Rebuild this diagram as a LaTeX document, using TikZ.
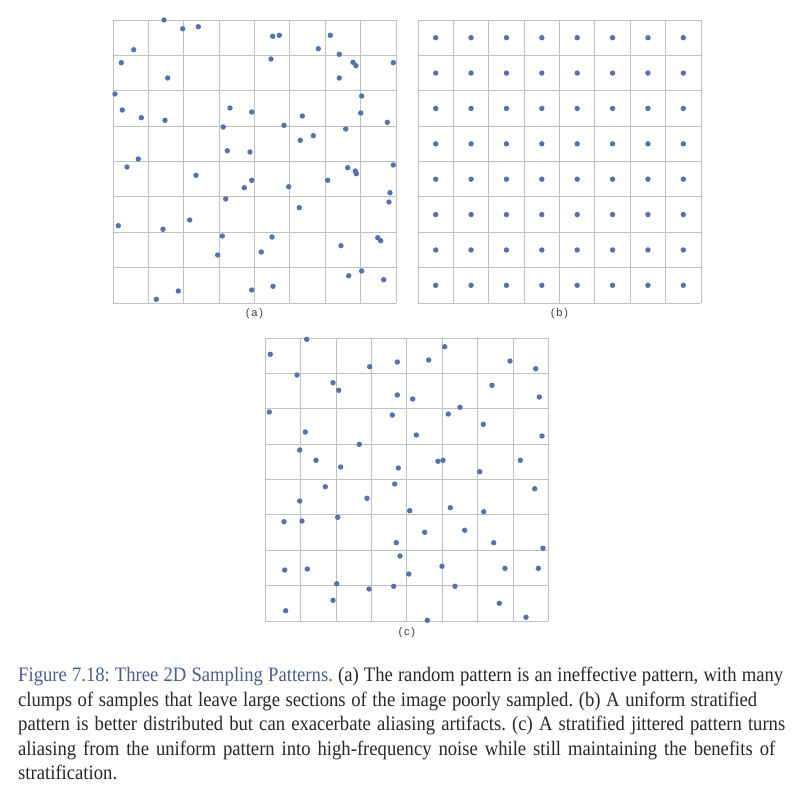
\documentclass[tikz,border=0pt]{standalone}
\usepackage{fontspec}
\setmainfont{Liberation Serif}
\newfontfamily\capfont[FakeStretch=0.91]{Liberation Serif}
\newfontfamily\labfont{Liberation Sans}
\definecolor{dotc}{RGB}{84,114,174}
\definecolor{gridc}{RGB}{192,192,192}
\definecolor{figc}{RGB}{74,94,140}
\definecolor{textc}{RGB}{40,40,40}
\definecolor{labc}{RGB}{60,60,60}
\tikzset{
  gridline/.style={draw=gridc, line width=0.8pt},
  sample/.style={fill=dotc},
  captext/.style={anchor=base west, inner sep=0pt, font=\capfont\fontsize{20.5}{24}\selectfont\frenchspacing, text=textc},
  sublabel/.style={inner sep=0pt, font=\labfont\fontsize{11}{12}\selectfont, text=labc}
}
\newcommand\samplegrid[3]{%
  \foreach \i in {0,...,8}{%
    \draw[gridline] ({#1+\i*#3/8},#2) -- ({#1+\i*#3/8},{#2+#3});
    \draw[gridline] (#1,{#2+\i*#3/8}) -- ({#1+#3},{#2+\i*#3/8});
  }}
\begin{document}
\begin{tikzpicture}[x=1pt,y=-1pt]
\useasboundingbox (0,0) rectangle (797,796);
\fill[white] (0,0) rectangle (797,796);
% grids
\samplegrid{113}{20}{283}
\samplegrid{418}{20}{283}
\samplegrid{265.3}{338}{283}
% (a) random
\foreach \x/\y in {164/20,182.7/28.7,198.3/26.7,133.7/49.7,121.3/62.7,167.7/78,115/94,122.3/110,141.3/117.7,165/120.3,
230/108,251.7/112,223.3/127,227.3/150.7,250/152,138.3/159,
272.7/36.3,279.3/35.3,330.3/35.3,318.3/48.7,339.3/54.3,271/59,353/62.3,356/65.7,393.3/62.7,339.3/78,361.7/96,
302.3/116,360.7/113,387.3/122.3,284/125.3,345.7/129,300.3/140.3,313.3/135.7,
127/167,196/175.3,251.7/180.3,244.3/187.7,225.7/199,118.3/225.7,163/229.3,189.7/220,222.3/236,217.7/255,178.3/291,156.3/299.3,251.7/290,
288.7/186.7,299.3/207.7,327.7/180.3,347.7/167.7,355.3/171,356.3/173.7,393.3/165,390/192.7,389/202,272/237,261.3/252,341/245.7,
377.7/237.7,380.7/240.7,348.7/275.7,361.7/271,383.7/279.7,273/286.3}
  \fill[sample] (\x,\y) circle (2.7);
% (b) uniform
\foreach \i in {0,...,7}
  \foreach \j in {0,...,7}
    \fill[sample] ({418+17.69+\i*35.375},{20+17.69+\j*35.375}) circle (2.7);
% (c) jittered
\foreach \x/\y in {306.7/339.3,270.3/354.3,369.7/366.7,397.3/362,297/375,333/382.7,338.7/390.3,397.3/395,269.3/412,392.3/415,
305.3/432,359.3/444.3,299.7/450,316/460.3,340.7/467,398.3/468,
428.7/360,444.7/346.7,510/361,535.7/368.7,492/385.3,412.7/399,539.3/397,460/407.3,448.3/414,483.3/424.3,416.3/435,542/436,
438/461.3,443/460.3,520.3/460.3,479.7/471.7,
325.3/486.7,299.7/501,367/498.3,394.7/484,284/521.7,302/521,337.7/517.3,396.3/542.7,400/556,284.7/570,307.3/569,336.7/583.7,
369/589,393.7/586.3,333/600.3,285.7/610.7,
534.7/488.7,409.7/510.7,450.3/507.7,483.7/511.7,424.7/532.3,464.7/530.3,493.7/542.7,543/548.3,442/566.3,408.7/574,505/568.3,
538.3/568.3,455/586.3,499.3/603.3,427.3/620.3,526/617.3}
  \fill[sample] (\x,\y) circle (2.7);
% sub labels
\node[sublabel] (la) at (254.5,313.5) {(\,a\,)};
\node[sublabel] (lb) at (559.5,313.5) {(\,b\,)};
\node[sublabel] (lc) at (406.8,632.5) {(\,c\,)};
% caption
\node[captext] (c1) at (18,681) {\makebox[765pt][s]{{\color{figc}Figure 7.18: Three 2D Sampling Patterns.} (a) The random pattern is an ineffective pattern, with many}};
\node[captext] (c2) at (18,706) {\makebox[739pt][s]{clumps of samples that leave large sections of the image poorly sampled. (b) A uniform stratified}};
\node[captext] (c3) at (18,730.5) {\makebox[767pt][s]{pattern is better distributed but can exacerbate aliasing artifacts. (c) A stratified jittered pattern turns}};
\node[captext] (c4) at (18,755) {\makebox[757pt][s]{aliasing from the uniform pattern into high-frequency noise while still maintaining the benefits of}};
\node[captext] (c5) at (18,779.5) {stratification.};
\end{tikzpicture}
\end{document}
